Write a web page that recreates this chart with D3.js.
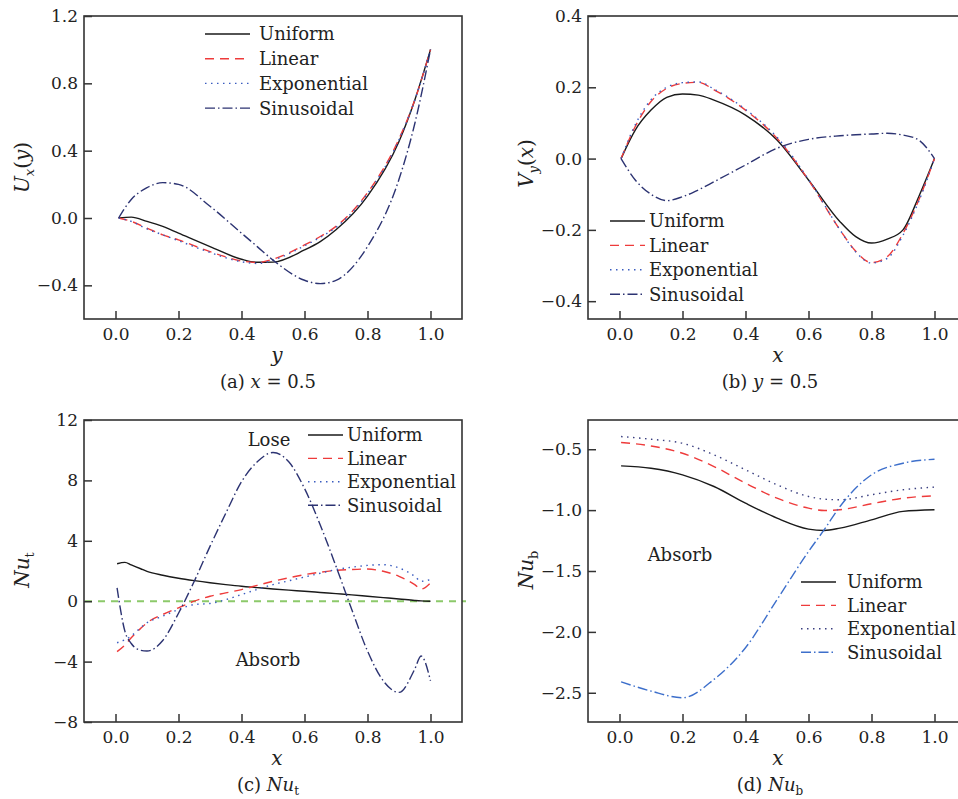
<!DOCTYPE html>
<html>
<head>
<meta charset="utf-8">
<script src="https://cdn.jsdelivr.net/npm/d3@7"></script>
<style>
  body { margin: 0; background: #fff; }
  svg { display: block; }
  text { font-family: "DejaVu Serif", "Liberation Serif", serif; fill: #222; }
</style>
</head>
<body>
<div id="chart"></div>
<script>

// ---- data ----
const seriesNames = ["Uniform", "Linear", "Exponential", "Sinusoidal"];
const xTicks = [0.0, 0.2, 0.4, 0.6, 0.8, 1.0];

// (a) x = 0.5
const xA = [0.01, 0.05, 0.1, 0.15, 0.2, 0.3, 0.4, 0.45, 0.5, 0.6, 0.65, 0.7, 0.8, 0.9, 0.95, 1.0];
const uniformA = [0, 0.005, -0.02, -0.05, -0.09, -0.17, -0.245, -0.263, -0.262, -0.19, -0.14, -0.07, 0.13, 0.455, 0.70, 1.0];
const linearA = [0, -0.02, -0.06, -0.10, -0.13, -0.20, -0.255, -0.265, -0.245, -0.16, -0.11, -0.05, 0.15, 0.47, 0.70, 1.0];
const exponentialA = [0, -0.02, -0.065, -0.10, -0.135, -0.205, -0.26, -0.27, -0.25, -0.165, -0.115, -0.055, 0.145, 0.465, 0.70, 1.0];
const sinusoidalA = [0, 0.11, 0.18, 0.21, 0.20, 0.07, -0.09, -0.17, -0.25, -0.37, -0.39, -0.37, -0.17, 0.23, 0.56, 1.0];
const yTicksA = [-0.4, 0.0, 0.4, 0.8, 1.2];

// (b) y = 0.5
const xB = [0.005, 0.05, 0.1, 0.15, 0.2, 0.25, 0.3, 0.4, 0.5, 0.6, 0.7, 0.75, 0.8, 0.85, 0.9, 0.95, 1.0];
const uniformB = [0, 0.08, 0.136, 0.172, 0.181, 0.178, 0.164, 0.122, 0.052, -0.06, -0.177, -0.219, -0.237, -0.226, -0.20, -0.107, 0];
const linearB = [0, 0.09, 0.16, 0.197, 0.211, 0.214, 0.193, 0.136, 0.057, -0.06, -0.20, -0.26, -0.292, -0.275, -0.21, -0.116, 0];
const exponentialB = [0, 0.095, 0.165, 0.20, 0.213, 0.215, 0.195, 0.138, 0.06, -0.058, -0.20, -0.262, -0.293, -0.28, -0.215, -0.12, 0];
const sinusoidalB = [0, -0.06, -0.10, -0.118, -0.107, -0.088, -0.065, -0.018, 0.029, 0.054, 0.064, 0.067, 0.069, 0.071, 0.066, 0.052, 0];
const yTicksB = [-0.4, -0.2, 0.0, 0.2, 0.4];

// (c) Nu_t
const xC = [0.005, 0.03, 0.05, 0.08, 0.1, 0.15, 0.2, 0.25, 0.3, 0.35, 0.4, 0.45, 0.5, 0.55, 0.6, 0.65, 0.7, 0.75, 0.8, 0.85, 0.9, 0.95, 0.97, 1.0];
const uniformC = [2.48, 2.57, 2.4, 2.15, 1.98, 1.72, 1.52, 1.36, 1.22, 1.1, 0.99, 0.9, 0.81, 0.73, 0.66, 0.58, 0.5, 0.42, 0.33, 0.24, 0.15, 0.05, 0.02, 0];
const linearC = [-3.34, -2.9, -2.42, -1.8, -1.43, -0.88, -0.44, 0, 0.33, 0.55, 0.77, 1.05, 1.32, 1.55, 1.76, 1.92, 2.04, 2.1, 2.13, 1.98, 1.65, 1.1, 0.8, 1.21];
const exponentialC = [-2.75, -2.55, -2.3, -1.75, -1.43, -0.99, -0.55, -0.22, -0.15, 0.1, 0.44, 0.78, 1.1, 1.35, 1.6, 1.85, 2.09, 2.25, 2.37, 2.42, 2.2, 1.65, 1.32, 1.43];
const sinusoidalC = [0.88, -2.0, -2.8, -3.25, -3.3, -2.6, -0.8, 1.32, 3.63, 5.82, 7.91, 9.23, 9.85, 9.23, 7.47, 5.05, 2.31, -0.55, -3.3, -5.27, -6.04, -4.5, -3.63, -5.27];
const yTicksC = [-8, -4, 0, 4, 8, 12];

// (d) Nu_b
const xD = [0.005, 0.1, 0.2, 0.3, 0.4, 0.5, 0.6, 0.65, 0.7, 0.8, 0.9, 1.0];
const uniformD = [-0.637, -0.656, -0.71, -0.806, -0.943, -1.066, -1.156, -1.167, -1.148, -1.08, -1.01, -0.997];
const linearD = [-0.445, -0.473, -0.533, -0.642, -0.779, -0.902, -0.984, -1.003, -0.997, -0.948, -0.902, -0.883];
const exponentialD = [-0.396, -0.418, -0.451, -0.546, -0.669, -0.792, -0.888, -0.91, -0.915, -0.874, -0.833, -0.811];
const sinusoidalD = [-2.41, -2.486, -2.541, -2.39, -2.13, -1.735, -1.34, -1.16, -0.97, -0.71, -0.615, -0.582];
const yTicksD = [-2.5, -2.0, -1.5, -1.0, -0.5];

// ---- styles ----
const styleDash = {
    Uniform: null,
    Linear: "9,6",
    Exponential: "1.5,4.5",
    Sinusoidal: "10,3,1.5,3"
};
const colorsBlue = { Uniform: "#1a1a1a", Linear: "#ee3b3b", Exponential: "#3a5cc0", Sinusoidal: "#2c3372" };
const colorsD = { Uniform: "#1a1a1a", Linear: "#ee3b3b", Exponential: "#3a3f80", Sinusoidal: "#3d6fcb" };

const svg = d3.select("#chart").append("svg")
    .attr("width", 958)
    .attr("height", 799);

function drawPanel(cfg) {

    let g = svg.append("g");

    let x = d3.scaleLinear().domain([-0.1, 1.1]).range([cfg.left, cfg.right]);
    let y = d3.scaleLinear().domain(cfg.yDomain).range([cfg.bottom, cfg.top]);

    // zero reference line (panel c)
    if (cfg.zeroLine) {
        g.append("line")
            .attr("x1", cfg.left + 1).attr("x2", cfg.right + 4)
            .attr("y1", y(0)).attr("y2", y(0))
            .attr("stroke", "#8cc96a")
            .attr("stroke-width", 2)
            .attr("stroke-dasharray", "7,6");
    }

    let line = d3.line()
        .x(d => x(d[0]))
        .y(d => y(d[1]))
        .curve(d3.curveMonotoneX);

    cfg.series.forEach((vals, i) => {
        let name = seriesNames[i];
        g.append("path")
            .datum(cfg.xs.map((v, j) => [v, vals[j]]))
            .attr("d", line)
            .attr("fill", "none")
            .attr("stroke", cfg.colors[name])
            .attr("stroke-width", 1.4)
            .attr("stroke-dasharray", styleDash[name]);
    });

    // frame
    g.append("rect")
        .attr("x", cfg.left).attr("y", cfg.top)
        .attr("width", cfg.right - cfg.left)
        .attr("height", cfg.bottom - cfg.top)
        .attr("fill", "none")
        .attr("stroke", "#333")
        .attr("stroke-width", 1.6);

    // axes, ticks pointing inward
    let xAxis = d3.axisBottom(x).tickValues(xTicks).tickFormat(d3.format(".1f"))
        .tickSizeInner(-8).tickSizeOuter(0).tickPadding(9);
    let yAxis = d3.axisLeft(y).tickValues(cfg.yTicks).tickFormat(d3.format(cfg.yFormat))
        .tickSizeInner(-8).tickSizeOuter(0).tickPadding(6);

    let gx = g.append("g").attr("transform", `translate(0,${cfg.bottom})`).call(xAxis);
    let gy = g.append("g").attr("transform", `translate(${cfg.left},0)`).call(yAxis);
    [gx, gy].forEach(a => {
        a.select(".domain").remove();
        a.selectAll(".tick line").attr("stroke", "#333").attr("stroke-width", 1.5);
        a.selectAll(".tick text")
            .style("font-family", '"DejaVu Serif", serif')
            .style("font-size", "17px")
            .attr("fill", "#2a2a2a");
    });

    // y axis label (rotated)
    let yl = g.append("text")
        .attr("transform", `translate(${cfg.yLabelX},${(cfg.top + cfg.bottom) / 2 + cfg.yLabelDy}) rotate(-90)`)
        .attr("text-anchor", "middle")
        .style("font-size", "20px");
    cfg.yLabel(yl);

    // x axis label
    g.append("text")
        .attr("x", (cfg.left + cfg.right) / 2 + cfg.xLabelDx)
        .attr("y", cfg.bottom + 43)
        .attr("text-anchor", "middle")
        .style("font-size", "20px")
        .style("font-style", "italic")
        .text(cfg.xLabel);

    // caption
    let cap = g.append("text")
        .attr("x", cfg.captionX)
        .attr("y", cfg.bottom + 69)
        .attr("text-anchor", "middle")
        .style("font-size", "18px");
    cfg.caption(cap);

    // legend
    let lg = g.append("g").attr("transform", `translate(${cfg.legend.x},${cfg.legend.y})`);
    seriesNames.forEach((name, i) => {
        let yy = i * cfg.legend.step;
        lg.append("line")
            .attr("x1", 0).attr("x2", cfg.legend.len)
            .attr("y1", yy).attr("y2", yy)
            .attr("stroke", cfg.colors[name])
            .attr("stroke-width", 1.4)
            .attr("stroke-dasharray", styleDash[name]);
        lg.append("text")
            .attr("x", cfg.legend.len + cfg.legend.gap)
            .attr("y", yy)
            .attr("dy", "0.36em")
            .style("font-size", "18px")
            .text(name);
    });

    // annotations
    (cfg.notes || []).forEach(n => {
        g.append("text")
            .attr("x", n.x).attr("y", n.y)
            .attr("dy", "0.36em")
            .attr("text-anchor", "middle")
            .style("font-size", "18px")
            .text(n.text);
    });
}

// label helpers
function subLabel(main, sub, arg, subItalic) {
    return t => {
        t.append("tspan").style("font-style", "italic").text(main);
        t.append("tspan").attr("dy", 5).style("font-size", "13px")
            .style("font-style", subItalic ? "italic" : "normal").text(sub);
        if (arg) {
            t.append("tspan").attr("dy", -5).text("(");
            t.append("tspan").style("font-style", "italic").text(arg);
            t.append("tspan").text(")");
        }
    };
}
function eqCaption(tag, v) {
    return t => {
        t.append("tspan").text(tag + " ");
        t.append("tspan").style("font-style", "italic").text(v);
        t.append("tspan").text(" = 0.5");
    };
}
function nuCaption(tag, sub) {
    return t => {
        t.append("tspan").text(tag + " ");
        t.append("tspan").style("font-style", "italic").text("Nu");
        t.append("tspan").attr("dy", 4).style("font-size", "12px").text(sub);
    };
}

drawPanel({
    left: 84, right: 462, top: 16, bottom: 319,
    yDomain: [-0.6, 1.2], yTicks: yTicksA, yFormat: ".1f",
    xs: xA, series: [uniformA, linearA, exponentialA, sinusoidalA], colors: colorsBlue,
    yLabelX: 29, yLabelDy: 0, yLabel: subLabel("U", "x", "y", true),
    xLabel: "y", xLabelDx: 4, captionX: 268, caption: eqCaption("(a)", "x"),
    legend: { x: 205, y: 34, step: 24.7, len: 45, gap: 9 }
});

drawPanel({
    left: 588, right: 966, top: 16, bottom: 319,
    yDomain: [-0.45, 0.4], yTicks: yTicksB, yFormat: ".1f",
    xs: xB, series: [uniformB, linearB, exponentialB, sinusoidalB], colors: colorsBlue,
    yLabelX: 533, yLabelDy: -4, yLabel: subLabel("V", "y", "x", true),
    xLabel: "x", xLabelDx: 1, captionX: 770, caption: eqCaption("(b)", "y"),
    legend: { x: 610, y: 221, step: 24.4, len: 35, gap: 4 }
});

drawPanel({
    left: 84, right: 462, top: 420, bottom: 722,
    yDomain: [-8, 12], yTicks: yTicksC, yFormat: "d",
    xs: xC, series: [uniformC, linearC, exponentialC, sinusoidalC], colors: colorsBlue,
    zeroLine: true,
    yLabelX: 29, yLabelDy: -1, yLabel: subLabel("Nu", "t", null, false),
    xLabel: "x", xLabelDx: 4, captionX: 268, caption: nuCaption("(c)", "t"),
    legend: { x: 308, y: 435, step: 23.4, len: 35, gap: 4 },
    notes: [{ x: 269, y: 440, text: "Lose" }, { x: 268, y: 660, text: "Absorb" }]
});

drawPanel({
    left: 588, right: 966, top: 420, bottom: 722,
    yDomain: [-2.74, -0.26], yTicks: yTicksD, yFormat: ".1f",
    xs: xD, series: [uniformD, linearD, exponentialD, sinusoidalD], colors: colorsD,
    yLabelX: 533, yLabelDy: -1, yLabel: subLabel("Nu", "b", null, false),
    xLabel: "x", xLabelDx: 1, captionX: 770, caption: nuCaption("(d)", "b"),
    legend: { x: 801, y: 582, step: 23.4, len: 35, gap: 11 },
    notes: [{ x: 680, y: 555, text: "Absorb" }]
});

</script>
</body>
</html>
